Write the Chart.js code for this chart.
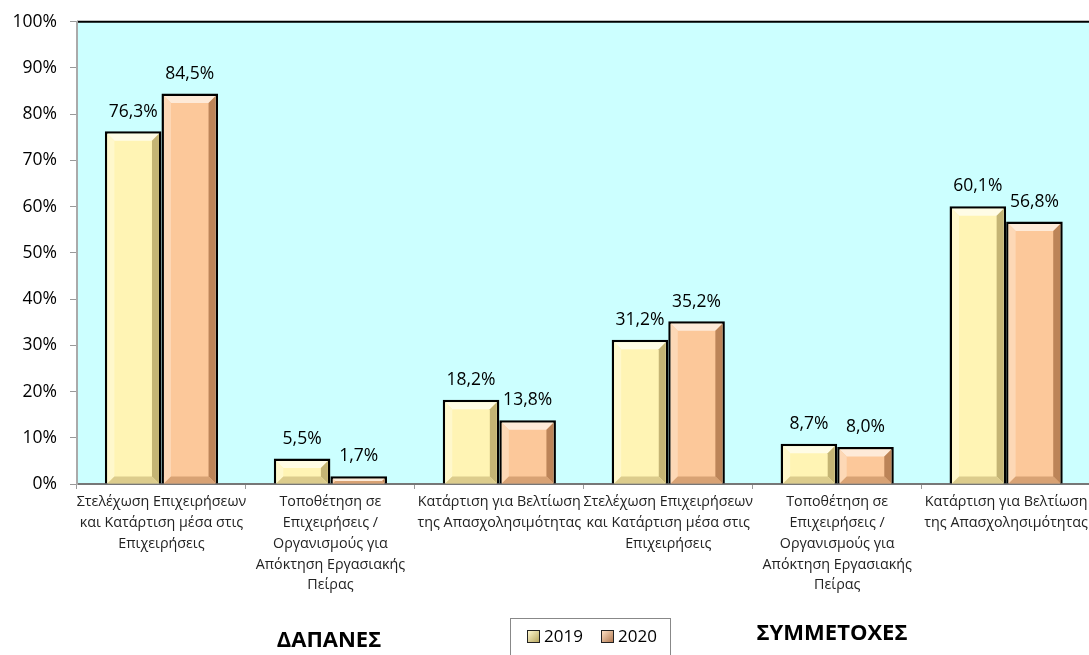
<!DOCTYPE html>
<html><head><meta charset="utf-8">
<script src="https://cdn.jsdelivr.net/npm/chart.js@4.4.0/dist/chart.umd.min.js"></script>
<style>
html,body{margin:0;padding:0;background:#fff;overflow:hidden;width:1089px;height:655px;}
#wrap{position:relative;width:1089px;height:655px;overflow:hidden;}
canvas{position:absolute;left:0;top:0;}
.title{position:absolute;font-family:"Open Sans",sans-serif;font-weight:bold;color:#000;white-space:nowrap;transform:translate(-50%,-50%);}
#legend{position:absolute;left:510px;top:618px;width:161px;height:45px;border:1px solid #888;box-sizing:border-box;font-family:"Open Sans",sans-serif;font-size:17px;color:#000;}
.li{position:absolute;top:7px;display:flex;align-items:center;line-height:20px;}
.sw{width:11px;height:11px;border:1.5px solid #222;margin-right:4px;}
</style></head>
<body><div id="wrap">
<canvas id="c" width="1091" height="655" style="width:1091px;height:655px"></canvas>
<div class="title" style="left:329px;top:638px;font-size:22px">ΔΑΠΑΝΕΣ</div>
<div class="title" style="left:832px;top:631px;font-size:22px">ΣΥΜΜΕΤΟΧΕΣ</div>
<div id="legend">
 <div class="li" style="left:16px"><div class="sw" style="background:linear-gradient(135deg,#fff8d0,#b8a860)"></div>2019</div>
 <div class="li" style="left:90px"><div class="sw" style="background:linear-gradient(135deg,#fde0c4,#b07850)"></div>2020</div>
</div>
</div>
<script>
const categories = [
 ["Στελέχωση Επιχειρήσεων","και Κατάρτιση μέσα στις","Επιχειρήσεις"],
 ["Τοποθέτηση σε","Επιχειρήσεις /","Οργανισμούς για","Απόκτηση Εργασιακής","Πείρας"],
 ["Κατάρτιση για Βελτίωση","της Απασχολησιμότητας"],
 ["Στελέχωση Επιχειρήσεων","και Κατάρτιση μέσα στις","Επιχειρήσεις"],
 ["Τοποθέτηση σε","Επιχειρήσεις /","Οργανισμούς για","Απόκτηση Εργασιακής","Πείρας"],
 ["Κατάρτιση για Βελτίωση","της Απασχολησιμότητας"]
];
const values2019 = [76.3, 5.5, 18.2, 31.2, 8.7, 60.1];
const values2020 = [84.5, 1.7, 13.8, 35.2, 8.0, 56.8];
const seriesNames = ["2019","2020"];
const yTicks = [0,10,20,30,40,50,60,70,80,90,100];

const FONT = "'Open Sans', sans-serif";
const BW = 2.5;
const palettes = [
 {main:'#fff4b4', top:'#fffce6', left:'#fff8cc', right:'#c4b474', bottom:'#dccc8c'},
 {main:'#fcc89a', top:'#feead8', left:'#fdd8b6', right:'#bc8458', bottom:'#d8a274'}
];

const bgPlugin = {
 id:'bg',
 beforeDraw(chart){
   const {ctx, chartArea:a} = chart;
   ctx.save();
   ctx.fillStyle = '#ccffff';
   ctx.fillRect(a.left, a.top, a.right-a.left, a.bottom-a.top);
   ctx.strokeStyle = '#000';
   ctx.lineWidth = 2;
   ctx.beginPath(); ctx.moveTo(a.left, a.top); ctx.lineTo(a.right, a.top); ctx.stroke();
   ctx.restore();
 }
};

function quad(ctx, pts, fill){
 ctx.fillStyle = fill;
 ctx.beginPath();
 ctx.moveTo(pts[0][0],pts[0][1]);
 for(let k=1;k<pts.length;k++) ctx.lineTo(pts[k][0],pts[k][1]);
 ctx.closePath(); ctx.fill();
}

const bevelPlugin = {
 id:'bevel',
 afterDatasetsDraw(chart){
   const ctx = chart.ctx;
   chart.data.datasets.forEach((ds, di)=>{
     const meta = chart.getDatasetMeta(di);
     const p = palettes[di];
     meta.data.forEach((el)=>{
       const x0 = el.x - el.width/2 + BW, x1 = el.x + el.width/2 - BW;
       const top = el.y + BW, bot = el.base;
       const h = bot - top, w = x1 - x0;
       if (h < 3) return;
       const b = Math.min(7, h/2, w/2);
       ctx.save();
       quad(ctx, [[x0,top],[x1,top],[x1-b,top+b],[x0+b,top+b]], p.top);
       quad(ctx, [[x0,top],[x0+b,top+b],[x0+b,bot-b],[x0,bot]], p.left);
       quad(ctx, [[x1,top],[x1,bot],[x1-b,bot-b],[x1-b,top+b]], p.right);
       quad(ctx, [[x0,bot],[x0+b,bot-b],[x1-b,bot-b],[x1,bot]], p.bottom);
       ctx.restore();
     });
   });
 }
};

const labelPlugin = {
 id:'vlabels',
 afterDatasetsDraw(chart){
   const ctx = chart.ctx;
   ctx.save();
   ctx.font = "17.5px " + FONT;
   ctx.fillStyle = '#000';
   ctx.textAlign = 'center';
   ctx.textBaseline = 'bottom';
   chart.data.datasets.forEach((ds, di)=>{
     const meta = chart.getDatasetMeta(di);
     meta.data.forEach((el, i)=>{
       const v = ds.data[i];
       ctx.fillText(v.toFixed(1).replace('.',',') + '%', el.x, el.y - 11);
     });
   });
   ctx.restore();
 }
};

new Chart(document.getElementById('c'), {
 type:'bar',
 data:{
   labels: categories,
   datasets:[
     {label:seriesNames[0], data:values2019, backgroundColor:palettes[0].main, borderColor:'#000', borderWidth:BW, borderSkipped:'bottom', categoryPercentage:0.67, barPercentage:1.0},
     {label:seriesNames[1], data:values2020, backgroundColor:palettes[1].main, borderColor:'#000', borderWidth:BW, borderSkipped:'bottom', categoryPercentage:0.67, barPercentage:1.0}
   ]
 },
 options:{
   responsive:false,
   animation:false,
   layout:{padding:{top:21,left:0,right:0,bottom:0}},
   plugins:{legend:{display:false}, tooltip:{enabled:false}},
   scales:{
     x:{
       offset:true,
       grid:{display:true, drawOnChartArea:false, drawTicks:true, tickLength:5, color:'#999', offset:true},
       border:{display:true, color:'#777', width:2},
       ticks:{font:{family:FONT, size:14.3, lineHeight:1.45}, color:'#222', maxRotation:0, autoSkip:false, padding:3},
       afterFit(s){ s.height = 655 - 484; }
     },
     y:{
       min:0, max:100,
       afterBuildTicks(s){ s.ticks = yTicks.map(v=>({value:v})); },
       grid:{display:true, drawOnChartArea:false, drawTicks:true, tickLength:7, color:'#999'},
       border:{display:true, color:'#aaa', width:2},
       ticks:{font:{family:FONT, size:17.5, lineHeight:1.0}, color:'#000', padding:13, callback:v=>v+'%'},
       afterFit(s){ s.width = 77; }
     }
   }
 },
 plugins:[bgPlugin, bevelPlugin, labelPlugin]
});
</script>
</body></html>
